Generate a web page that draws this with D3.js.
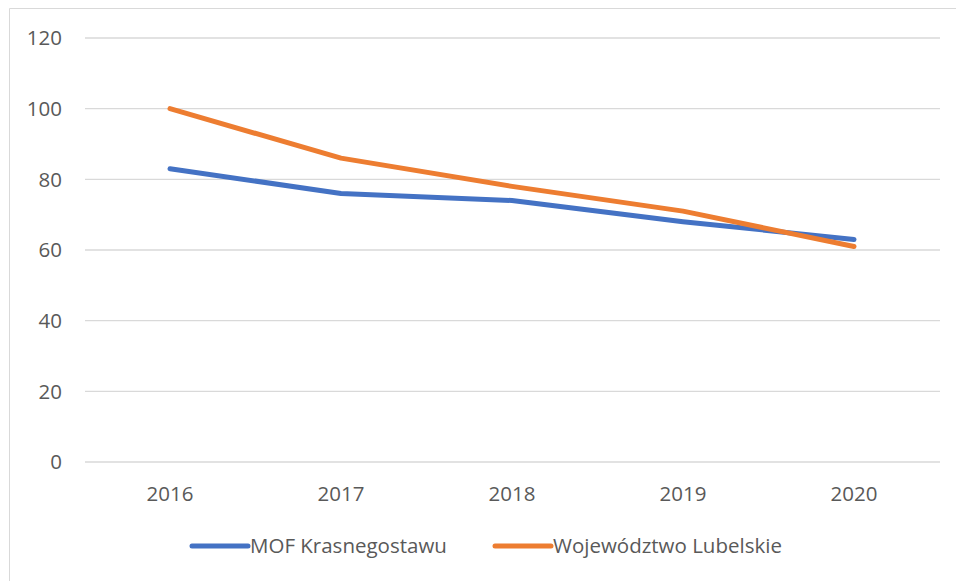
<!DOCTYPE html>
<html><head><meta charset="utf-8">
<script src="https://cdn.jsdelivr.net/npm/d3@7"></script>
<style>body{margin:0;background:#fff;}svg{display:block;font-family:"Open Sans",sans-serif;}</style>
</head><body><svg id="c" width="956" height="581"></svg>
<script>
const years = ["2016","2017","2018","2019","2020"];
const mofKrasnegostawu = [83, 76, 74, 68, 63];
const wojLubelskie = [100, 86, 78, 71, 61];
const yTicks = [0, 20, 40, 60, 80, 100, 120];
const seriesNames = ["MOF Krasnegostawu", "Województwo Lubelskie"];
const colors = ["#4472C4", "#ED7D31"];

const svg = d3.select("#c");
svg.append("path").attr("d","M9.5,581 L9.5,8.5 L956,8.5").attr("fill","none").attr("stroke","#d9d9d9").attr("stroke-width",1);

const x = d3.scalePoint().domain(years).range([170, 854]);
const y = d3.scaleLinear().domain([0,120]).range([462, 38]);

svg.append("g").selectAll("line").data(yTicks).join("line")
  .attr("x1",85).attr("x2",940).attr("y1",d=>y(d)).attr("y2",d=>y(d))
  .attr("stroke","#d9d9d9").attr("stroke-width",1.3);

svg.append("g").selectAll("text").data(yTicks).join("text")
  .attr("x",62).attr("y",d=>y(d)).attr("dy","0.36em").attr("text-anchor","end")
  .attr("font-size",20.5).attr("fill","#595959").text(d=>d);

svg.append("g").selectAll("text").data(years).join("text")
  .attr("x",d=>x(d)).attr("y",494).attr("dy","0.36em").attr("text-anchor","middle")
  .attr("font-size",20.5).attr("fill","#595959").text(d=>d);

const line = d3.line().x((d,i)=>x(years[i])).y(d=>y(d));
[mofKrasnegostawu, wojLubelskie].forEach((s,k)=>{
  svg.append("path").datum(s).attr("d",line).attr("fill","none")
    .attr("stroke",colors[k]).attr("stroke-width",5).attr("stroke-linecap","round").attr("stroke-linejoin","round");
});

const legX = [192, 495];
seriesNames.forEach((n,k)=>{
  svg.append("line").attr("x1",legX[k]).attr("x2",legX[k]+56).attr("y1",546).attr("y2",546)
    .attr("stroke",colors[k]).attr("stroke-width",5).attr("stroke-linecap","round");
  svg.append("text").attr("x",legX[k]+58).attr("y",546).attr("dy","0.36em")
    .attr("font-size",20.5).attr("fill","#595959").text(n);
});
</script></body></html>
